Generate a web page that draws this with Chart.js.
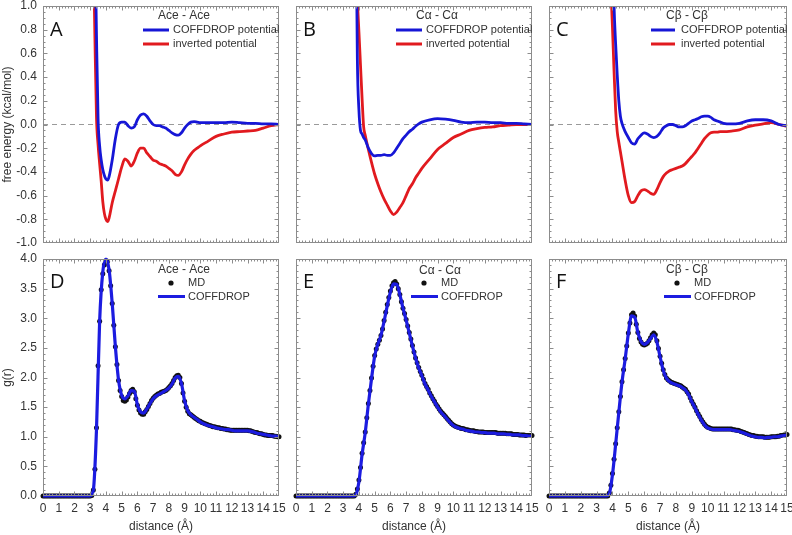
<!DOCTYPE html>
<html>
<head>
<meta charset="utf-8">
<title>COFFDROP potentials and g(r)</title>
<script src="https://cdn.jsdelivr.net/npm/chart.js@4.4.1/dist/chart.umd.min.js"></script>
<style>
  html, body { margin: 0; padding: 0; background: #fff; }
  #wrap { position: relative; width: 792px; height: 535px; overflow: hidden; }
  #wrap canvas { position: absolute; left: 0; top: 0; }
</style>
</head>
<body>
<div id="wrap">
  <canvas id="panelA" width="792" height="535"></canvas>
  <canvas id="panelB" width="792" height="535"></canvas>
  <canvas id="panelC" width="792" height="535"></canvas>
  <canvas id="panelD" width="792" height="535"></canvas>
  <canvas id="panelE" width="792" height="535"></canvas>
  <canvas id="panelF" width="792" height="535"></canvas>
</div>
<script>
// ---- tick labels ----
const energyTicks = [-1.0, -0.8, -0.6, -0.4, -0.2, 0.0, 0.2, 0.4, 0.6, 0.8, 1.0];
const gTicks = [0.0, 0.5, 1.0, 1.5, 2.0, 2.5, 3.0, 3.5, 4.0];
const distanceTicks = [0, 1, 2, 3, 4, 5, 6, 7, 8, 9, 10, 11, 12, 13, 14, 15];

// ---- free energy (top row), distance in Å ----
const zeroX = [0, 15];
const zeroY = [0, 0];

const xAce = [3.2, 3.3, 3.4, 3.5, 3.6, 3.7, 3.8, 3.9, 4.0, 4.1, 4.2,
  4.4, 4.6, 4.8, 5.0, 5.2, 5.4, 5.6, 5.8, 6.0, 6.2, 6.4, 6.6, 6.8, 7.0, 7.2, 7.4, 7.6, 7.8,
  8.0, 8.2, 8.4, 8.6, 8.8, 9.0, 9.2, 9.4, 9.6, 9.8, 10.0,
  10.5, 11.0, 11.5, 12.0, 12.5, 13.0, 13.5, 14.0, 14.5, 15.0];
const aceCoffdrop = [2.5, 1.6, 0.75, 0.05, -0.18, -0.3, -0.38, -0.43, -0.46, -0.47, -0.44,
  -0.3, -0.12, 0.0, 0.02, 0.02, -0.01, -0.03, -0.02, 0.04, 0.08, 0.09, 0.07, 0.03, 0.0, -0.01, -0.01, -0.02, -0.03,
  -0.05, -0.07, -0.085, -0.09, -0.07, -0.03, 0.0, 0.02, 0.025, 0.02, 0.015,
  0.015, 0.015, 0.015, 0.02, 0.015, 0.01, 0.01, 0.005, 0.005, 0.0];
const aceInverted = [1.5, 0.73, 0.06, -0.17, -0.33, -0.48, -0.65, -0.75, -0.8, -0.82, -0.79,
  -0.66, -0.56, -0.46, -0.36, -0.29, -0.31, -0.35, -0.31, -0.24, -0.2, -0.2, -0.24, -0.27, -0.3, -0.31, -0.33, -0.34, -0.35,
  -0.37, -0.39, -0.42, -0.43, -0.4, -0.34, -0.29, -0.25, -0.22, -0.2, -0.18,
  -0.14, -0.1, -0.08, -0.065, -0.06, -0.055, -0.05, -0.03, -0.01, 0.0];

const xCa = [3.8, 3.9, 4.0, 4.1, 4.2, 4.3, 4.4,
  4.6, 4.8, 5.0, 5.2, 5.4, 5.6, 5.8, 6.0, 6.2, 6.4, 6.6, 6.8, 7.0, 7.2, 7.4, 7.6, 7.8, 8.0,
  8.5, 9.0, 9.5, 10.0, 10.5, 11.0, 11.5, 12.0, 12.5, 13.0, 13.5, 14.0, 14.5, 15.0];
const caCoffdrop = [2.0, 0.55, 0.12, -0.05, -0.08, -0.11, -0.13,
  -0.2, -0.245, -0.265, -0.26, -0.26, -0.255, -0.26, -0.26, -0.24, -0.2, -0.16, -0.12, -0.09, -0.06, -0.04, -0.015, 0.005, 0.02,
  0.04, 0.05, 0.045, 0.035, 0.02, 0.015, 0.02, 0.02, 0.015, 0.015, 0.01, 0.01, 0.005, 0.0];
const caInverted = [1.35, 1.05, 0.78, 0.5, 0.22, -0.02, -0.09,
  -0.21, -0.32, -0.42, -0.5, -0.57, -0.63, -0.68, -0.73, -0.76, -0.74, -0.7, -0.66, -0.6, -0.54, -0.5, -0.45, -0.41, -0.37,
  -0.29, -0.21, -0.16, -0.11, -0.08, -0.05, -0.035, -0.025, -0.02, -0.01, -0.005, 0.0, 0.0, 0.0];

const xCb = [3.9, 4.0, 4.1, 4.2, 4.3, 4.4, 4.5, 4.6,
  4.8, 5.0, 5.2, 5.4, 5.6, 5.8, 6.0, 6.2, 6.4, 6.6, 6.8, 7.0, 7.2, 7.4, 7.6, 7.8,
  8.0, 8.2, 8.4, 8.6, 8.8, 9.0, 9.2, 9.4, 9.6, 9.8, 10.0, 10.2, 10.4, 10.6, 10.8, 11.0,
  11.5, 12.0, 12.5, 13.0, 13.5, 14.0, 14.5, 15.0];
const cbCoffdrop = [2.4, 1.6, 1.0, 0.68, 0.42, 0.2, 0.07, 0.01,
  -0.06, -0.11, -0.155, -0.165, -0.12, -0.09, -0.07, -0.08, -0.1, -0.11, -0.1, -0.07, -0.03, -0.01, 0.0, 0.0,
  -0.01, -0.02, -0.02, -0.01, 0.01, 0.03, 0.04, 0.05, 0.065, 0.07, 0.07, 0.06, 0.04, 0.03, 0.02, 0.01,
  0.005, 0.01, 0.03, 0.04, 0.04, 0.03, 0.0, -0.01];
const cbInverted = [1.15, 0.82, 0.45, 0.12, -0.06, -0.15, -0.23, -0.31,
  -0.47, -0.6, -0.66, -0.65, -0.6, -0.56, -0.55, -0.56, -0.58, -0.59, -0.55, -0.49, -0.44, -0.41, -0.39, -0.38,
  -0.37, -0.36, -0.35, -0.33, -0.3, -0.27, -0.24, -0.2, -0.16, -0.12, -0.09, -0.07, -0.065, -0.065, -0.06, -0.06,
  -0.055, -0.045, -0.02, -0.005, 0.005, 0.015, 0.0, -0.015];

// ---- g(r) (bottom row) ----
// COFFDROP curves, every 0.2 Å
const rGrid = [0, 0.2, 0.4, 0.6, 0.8, 1, 1.2, 1.4, 1.6, 1.8, 2, 2.2, 2.4, 2.6, 2.8, 3,
  3.2, 3.4, 3.6, 3.8, 4, 4.2, 4.4, 4.6, 4.8, 5, 5.2, 5.4, 5.6, 5.8, 6, 6.2, 6.4, 6.6, 6.8,
  7, 7.2, 7.4, 7.6, 7.8, 8, 8.2, 8.4, 8.6, 8.8, 9, 9.2, 9.4, 9.6, 9.8, 10, 10.2, 10.4, 10.6, 10.8,
  11, 11.2, 11.4, 11.6, 11.8, 12, 12.2, 12.4, 12.6, 12.8, 13, 13.2, 13.4, 13.6, 13.8,
  14, 14.2, 14.4, 14.6, 14.8, 15];

const aceCG = [0, 0, 0, 0, 0, 0, 0, 0, 0, 0, 0, 0, 0, 0, 0, 0,
  0.1, 1.12, 2.95, 3.78, 4.0, 3.82, 3.25, 2.52, 1.96, 1.7, 1.64, 1.69, 1.78, 1.77, 1.54, 1.42, 1.4, 1.47, 1.56,
  1.64, 1.69, 1.72, 1.75, 1.78, 1.82, 1.89, 1.99, 2.02, 1.9, 1.61, 1.44, 1.37, 1.33, 1.29, 1.25, 1.22, 1.2, 1.18, 1.17,
  1.15, 1.14, 1.13, 1.12, 1.12, 1.11, 1.1, 1.1, 1.1, 1.1, 1.1, 1.09, 1.08, 1.06, 1.05,
  1.04, 1.03, 1.02, 1.01, 1.01, 1.0];
const caCG = [0, 0, 0, 0, 0, 0, 0, 0, 0, 0, 0, 0, 0, 0, 0, 0, 0, 0, 0,
  0.02, 0.24, 0.7, 1.07, 1.55, 1.98, 2.36, 2.56, 2.71, 2.95, 3.21, 3.44, 3.58, 3.57, 3.4, 3.17,
  2.97, 2.75, 2.53, 2.33, 2.16, 2.03, 1.89, 1.79, 1.68, 1.59, 1.5, 1.42, 1.36, 1.3, 1.24, 1.19, 1.16, 1.14, 1.13, 1.11,
  1.1, 1.09, 1.08, 1.08, 1.07, 1.07, 1.06, 1.06, 1.06, 1.05, 1.05, 1.05, 1.04, 1.04, 1.03,
  1.03, 1.03, 1.02, 1.02, 1.01, 1.01];
const cbCG = [0, 0, 0, 0, 0, 0, 0, 0, 0, 0, 0, 0, 0, 0, 0, 0, 0, 0, 0,
  0.04, 0.36, 0.87, 1.41, 1.92, 2.31, 2.74, 3.04, 3.02, 2.76, 2.61, 2.56, 2.59, 2.66, 2.72, 2.6,
  2.35, 2.12, 1.99, 1.93, 1.9, 1.88, 1.86, 1.83, 1.79, 1.71, 1.59, 1.49, 1.38, 1.28, 1.2, 1.15, 1.13, 1.12, 1.12, 1.12,
  1.12, 1.12, 1.12, 1.11, 1.1, 1.09, 1.07, 1.05, 1.03, 1.01, 1.0, 0.99, 0.99, 0.98, 0.99,
  0.99, 1.0, 1.0, 1.01, 1.02, 1.03];

// MD points, every 0.1 Å (one row per whole Å)
const rFine = [
  0, 0.1, 0.2, 0.3, 0.4, 0.5, 0.6, 0.7, 0.8, 0.9,
  1, 1.1, 1.2, 1.3, 1.4, 1.5, 1.6, 1.7, 1.8, 1.9,
  2, 2.1, 2.2, 2.3, 2.4, 2.5, 2.6, 2.7, 2.8, 2.9,
  3, 3.1, 3.2, 3.3, 3.4, 3.5, 3.6, 3.7, 3.8, 3.9,
  4, 4.1, 4.2, 4.3, 4.4, 4.5, 4.6, 4.7, 4.8, 4.9,
  5, 5.1, 5.2, 5.3, 5.4, 5.5, 5.6, 5.7, 5.8, 5.9,
  6, 6.1, 6.2, 6.3, 6.4, 6.5, 6.6, 6.7, 6.8, 6.9,
  7, 7.1, 7.2, 7.3, 7.4, 7.5, 7.6, 7.7, 7.8, 7.9,
  8, 8.1, 8.2, 8.3, 8.4, 8.5, 8.6, 8.7, 8.8, 8.9,
  9, 9.1, 9.2, 9.3, 9.4, 9.5, 9.6, 9.7, 9.8, 9.9,
  10, 10.1, 10.2, 10.3, 10.4, 10.5, 10.6, 10.7, 10.8, 10.9,
  11, 11.1, 11.2, 11.3, 11.4, 11.5, 11.6, 11.7, 11.8, 11.9,
  12, 12.1, 12.2, 12.3, 12.4, 12.5, 12.6, 12.7, 12.8, 12.9,
  13, 13.1, 13.2, 13.3, 13.4, 13.5, 13.6, 13.7, 13.8, 13.9,
  14, 14.1, 14.2, 14.3, 14.4, 14.5, 14.6, 14.7, 14.8, 14.9,
  15];

const aceMD = [
  0, 0, 0, 0, 0, 0, 0, 0, 0, 0,
  0, 0, 0, 0, 0, 0, 0, 0, 0, 0,
  0, 0, 0, 0, 0, 0, 0, 0, 0, 0,
  0, 0.01, 0.1, 0.45, 1.15, 2.2, 2.95, 3.48, 3.75, 3.9,
  3.97, 3.96, 3.8, 3.55, 3.25, 2.88, 2.52, 2.22, 1.95, 1.78,
  1.68, 1.61, 1.6, 1.62, 1.67, 1.73, 1.78, 1.8, 1.76, 1.64,
  1.53, 1.45, 1.4, 1.38, 1.38, 1.42, 1.46, 1.51, 1.56, 1.61,
  1.65, 1.68, 1.7, 1.72, 1.73, 1.75, 1.76, 1.77, 1.78, 1.8,
  1.83, 1.86, 1.9, 1.95, 2.0, 2.03, 2.04, 2.0, 1.9, 1.74,
  1.6, 1.5, 1.43, 1.39, 1.37, 1.35, 1.33, 1.31, 1.29, 1.27,
  1.26, 1.24, 1.23, 1.22, 1.21, 1.2, 1.19, 1.18, 1.17, 1.17,
  1.16, 1.15, 1.15, 1.14, 1.14, 1.13, 1.13, 1.12, 1.12, 1.11,
  1.11, 1.11, 1.11, 1.11, 1.11, 1.11, 1.11, 1.11, 1.11, 1.11,
  1.11, 1.1, 1.1, 1.09, 1.08, 1.07, 1.07, 1.06, 1.05, 1.05,
  1.04, 1.03, 1.03, 1.02, 1.02, 1.02, 1.02, 1.01, 1.01, 1.0,
  1.0];
const caMD = [
  0, 0, 0, 0, 0, 0, 0, 0, 0, 0,
  0, 0, 0, 0, 0, 0, 0, 0, 0, 0,
  0, 0, 0, 0, 0, 0, 0, 0, 0, 0,
  0, 0, 0, 0, 0, 0, 0, 0, 0.03, 0.12,
  0.27, 0.48, 0.72, 0.9, 1.08, 1.32, 1.56, 1.78, 1.99, 2.19,
  2.37, 2.48, 2.56, 2.63, 2.71, 2.82, 2.96, 3.1, 3.23, 3.35,
  3.46, 3.55, 3.6, 3.62, 3.58, 3.5, 3.4, 3.28, 3.17, 3.08,
  2.98, 2.87, 2.76, 2.65, 2.54, 2.43, 2.33, 2.25, 2.17, 2.1,
  2.04, 1.97, 1.9, 1.85, 1.8, 1.74, 1.69, 1.64, 1.6, 1.55,
  1.51, 1.47, 1.43, 1.4, 1.37, 1.34, 1.31, 1.28, 1.25, 1.22,
  1.2, 1.18, 1.17, 1.16, 1.15, 1.14, 1.14, 1.13, 1.12, 1.12,
  1.11, 1.1, 1.1, 1.1, 1.09, 1.09, 1.08, 1.08, 1.08, 1.08,
  1.07, 1.07, 1.07, 1.07, 1.07, 1.07, 1.07, 1.07, 1.06, 1.06,
  1.06, 1.06, 1.06, 1.06, 1.05, 1.05, 1.05, 1.05, 1.04, 1.04,
  1.04, 1.04, 1.03, 1.03, 1.03, 1.03, 1.02, 1.02, 1.02, 1.02,
  1.02];
const cbMD = [
  0, 0, 0, 0, 0, 0, 0, 0, 0, 0,
  0, 0, 0, 0, 0, 0, 0, 0, 0, 0,
  0, 0, 0, 0, 0, 0, 0, 0, 0, 0,
  0, 0, 0, 0, 0, 0, 0, 0, 0.05, 0.18,
  0.38, 0.62, 0.88, 1.15, 1.42, 1.68, 1.93, 2.13, 2.32, 2.53,
  2.75, 2.92, 3.06, 3.09, 3.04, 2.9, 2.76, 2.66, 2.6, 2.56,
  2.55, 2.56, 2.58, 2.62, 2.67, 2.72, 2.75, 2.72, 2.62, 2.49,
  2.36, 2.24, 2.13, 2.05, 1.99, 1.96, 1.94, 1.92, 1.91, 1.9,
  1.89, 1.88, 1.87, 1.86, 1.84, 1.82, 1.8, 1.76, 1.72, 1.66,
  1.6, 1.55, 1.5, 1.44, 1.39, 1.34, 1.29, 1.25, 1.21, 1.18,
  1.16, 1.15, 1.14, 1.13, 1.13, 1.13, 1.13, 1.13, 1.13, 1.13,
  1.13, 1.13, 1.13, 1.13, 1.13, 1.13, 1.12, 1.12, 1.11, 1.11,
  1.1, 1.09, 1.08, 1.07, 1.06, 1.05, 1.04, 1.03, 1.02, 1.02,
  1.01, 1.01, 1.0, 1.0, 1.0, 1.0, 0.99, 0.99, 0.99, 0.99,
  1.0, 1.0, 1.0, 1.0, 1.01, 1.01, 1.02, 1.02, 1.03, 1.03,
  1.04];

// ---- styling ----
const BLUE = '#1616d6';
const RED = '#e11a1f';
const TEXT = '#333333';
const FRAME = '#8c8c8c';

Chart.defaults.font.family = "'Liberation Sans', Arial, sans-serif";
Chart.defaults.font.size = 12;
Chart.defaults.color = TEXT;

const pts = (xs, ys) => xs.map((x, i) => ({ x: x, y: ys[i] }));

// box frame with inward major/minor ticks on all four sides
const frameTicks = {
  id: 'frameTicks',
  afterDatasetsDraw(chart, args, o) {
    const { ctx, chartArea: a, scales: { x, y } } = chart;
    const L = Math.round(a.left) + 0.5, R = Math.round(a.right) - 0.5;
    const T = Math.round(a.top) + 0.5, B = Math.round(a.bottom) - 0.5;
    const isMajor = (list, v) => list.some(m => Math.abs(m - v) < 1e-6);
    ctx.save();
    ctx.strokeStyle = FRAME;
    ctx.lineWidth = 1;
    ctx.strokeRect(L, T, R - L, B - T);
    ctx.beginPath();
    const nx = Math.round((x.max - x.min) / o.xMinor);
    for (let i = 1; i < nx; i++) {
      const v = x.min + i * o.xMinor;
      const len = isMajor(o.xMajor, v) ? 4 : 2;
      const px = Math.round(x.getPixelForValue(v)) + 0.5;
      ctx.moveTo(px, B); ctx.lineTo(px, B - len);
      ctx.moveTo(px, T); ctx.lineTo(px, T + len);
    }
    const ny = Math.round((y.max - y.min) / o.yMinor);
    for (let i = 1; i < ny; i++) {
      const v = y.min + i * o.yMinor;
      const len = isMajor(o.yMajor, v) ? 4 : 2;
      const py = Math.round(y.getPixelForValue(v)) + 0.5;
      ctx.moveTo(L, py); ctx.lineTo(L + len, py);
      ctx.moveTo(R, py); ctx.lineTo(R - len, py);
    }
    ctx.stroke();
    ctx.restore();
  }
};

// panel letter + in-plot legend
const panelDecor = {
  id: 'panelDecor',
  afterDraw(chart, args, o) {
    const { ctx, chartArea: a } = chart;
    ctx.save();
    ctx.fillStyle = '#111';
    ctx.font = "20px 'Open Sans', sans-serif";
    ctx.textAlign = 'left';
    ctx.textBaseline = 'alphabetic';
    ctx.fillText(o.letter, a.left + 7, a.top + o.letterDy);

    ctx.fillStyle = TEXT;
    ctx.font = "12px 'Liberation Sans', Arial, sans-serif";
    ctx.textAlign = 'center';
    ctx.textBaseline = 'middle';
    ctx.fillText(o.title, a.left + o.titleDx, a.top + o.titleDy);

    ctx.textAlign = 'left';
    ctx.font = "11px 'Liberation Sans', Arial, sans-serif";
    let row = 0;
    chart.data.datasets.forEach(ds => {
      if (!ds.label) return;
      const yy = a.top + o.rowDy[row++];
      if (ds.showLine === false) {
        ctx.fillStyle = ds.pointBackgroundColor;
        ctx.beginPath();
        ctx.arc(a.left + o.dotDx, yy, 2.6, 0, Math.PI * 2);
        ctx.fill();
      } else {
        ctx.strokeStyle = ds.borderColor;
        ctx.lineWidth = 3;
        ctx.beginPath();
        ctx.moveTo(a.left + o.lineDx[0], yy);
        ctx.lineTo(a.left + o.lineDx[1], yy);
        ctx.stroke();
      }
      ctx.fillStyle = TEXT;
      ctx.fillText(ds.label, a.left + o.textDx, yy);
    });
    ctx.restore();
  }
};

function xScale(showLabels) {
  const s = {
    type: 'linear', min: 0, max: 15, display: showLabels,
    grid: { display: false, drawTicks: false },
    border: { display: false },
    afterBuildTicks: sc => { sc.ticks = distanceTicks.map(v => ({ value: v })); },
    ticks: { padding: 5, autoSkip: false, maxRotation: 0, font: { size: 12 } },
    title: { display: true, text: 'distance (Å)', padding: { top: 0, bottom: 0 }, font: { size: 12 } }
  };
  if (showLabels) {
    s.afterFit = sc => { sc.height = 38; sc.paddingLeft = 0; sc.paddingRight = 0; };
  }
  return s;
}

function yScale(tickList, min, max, titleText, showLabels) {
  const s = {
    type: 'linear', min: min, max: max, display: showLabels,
    grid: { display: false, drawTicks: false },
    border: { display: false },
    afterBuildTicks: sc => { sc.ticks = tickList.map(v => ({ value: v })); },
    ticks: {
      padding: 6, autoSkip: false, font: { size: 12, lineHeight: 1 },
      callback: v => (Math.abs(v) < 1e-9 ? 0 : v).toFixed(1)
    },
    title: { display: true, text: titleText, padding: { top: 0, bottom: 0 }, font: { size: 12 } }
  };
  if (showLabels) {
    s.afterFit = sc => { sc.width = 43; sc.paddingTop = 0; sc.paddingBottom = 0; };
  }
  return s;
}

// curves leave through the top of the free energy panels: clip only there
const topClip = { left: false, top: 0, right: false, bottom: false };

function energyPanel(id, letter, title, xs, coff, inv, pad, legend) {
  return new Chart(document.getElementById(id), {
    type: 'line',
    data: {
      datasets: [
        { label: 'COFFDROP potential', data: pts(xs, coff), borderColor: BLUE, borderWidth: 2.8,
          pointRadius: 0, cubicInterpolationMode: 'monotone', clip: topClip, order: 0 },
        { label: 'inverted potential', data: pts(xs, inv), borderColor: RED, borderWidth: 2.8,
          pointRadius: 0, cubicInterpolationMode: 'monotone', clip: topClip, order: 1 },
        { label: '', data: pts(zeroX, zeroY), borderColor: '#9a9a9a', borderWidth: 1,
          borderDash: [5, 4], pointRadius: 0, clip: 0, order: 2 }
      ]
    },
    options: {
      responsive: false, animation: false, devicePixelRatio: 1,
      layout: { padding: pad },
      scales: {
        x: xScale(false),
        y: yScale(energyTicks, -1, 1, 'free energy (kcal/mol)', pad.left === 0)
      },
      plugins: {
        legend: { display: false }, tooltip: { enabled: false },
        frameTicks: { xMajor: distanceTicks, xMinor: 0.2, yMajor: energyTicks, yMinor: 0.05 },
        panelDecor: Object.assign({ letter: letter, title: title, letterDy: 30 }, legend)
      }
    },
    plugins: [frameTicks, panelDecor]
  });
}

function rdfPanel(id, letter, title, md, cg, pad, legend) {
  return new Chart(document.getElementById(id), {
    type: 'line',
    data: {
      datasets: [
        { label: 'MD', data: pts(rFine, md), showLine: false, pointRadius: 2.5, pointBorderWidth: 0,
          pointBackgroundColor: '#111', pointBorderColor: '#111', clip: false, order: 1 },
        { label: 'COFFDROP', data: pts(rGrid, cg), borderColor: '#1c1ce0', borderWidth: 3.2,
          pointRadius: 0, cubicInterpolationMode: 'monotone', clip: false, order: 0 }
      ]
    },
    options: {
      responsive: false, animation: false, devicePixelRatio: 1,
      layout: { padding: pad },
      scales: {
        x: xScale(true),
        y: yScale(gTicks, 0, 4, 'g(r)', pad.left === 0)
      },
      plugins: {
        legend: { display: false }, tooltip: { enabled: false },
        frameTicks: { xMajor: distanceTicks, xMinor: 0.2, yMajor: gTicks, yMinor: 0.1 },
        panelDecor: Object.assign({ letter: letter, title: title, letterDy: 29 }, legend)
      }
    },
    plugins: [frameTicks, panelDecor]
  });
}

const topLegend = { titleDx: 141, titleDy: 10, lineDx: [100, 126], textDx: 130, rowDy: [24, 38] };
const botLegend = { titleDx: 141, titleDy: 11, dotDx: 128, lineDx: [115, 142], textDx: 145, rowDy: [24, 37.5] };

energyPanel('panelA', 'A', 'Ace - Ace', xAce, aceCoffdrop, aceInverted,
  { left: 0, top: 6, right: 513, bottom: 292 }, topLegend);
energyPanel('panelB', 'B', 'Cα - Cα', xCa, caCoffdrop, caInverted,
  { left: 296, top: 6, right: 260, bottom: 292 }, topLegend);
energyPanel('panelC', 'C', 'Cβ - Cβ', xCb, cbCoffdrop, cbInverted,
  { left: 549, top: 6, right: 5, bottom: 292 },
  Object.assign({}, topLegend, { titleDx: 138, lineDx: [102, 126], textDx: 132 }));

rdfPanel('panelD', 'D', 'Ace - Ace', aceMD, aceCG,
  { left: 0, top: 259, right: 513, bottom: 1 }, botLegend);
rdfPanel('panelE', 'E', 'Cα - Cα', caMD, caCG,
  { left: 296, top: 259, right: 260, bottom: 1 },
  Object.assign({}, botLegend, { titleDx: 144, titleDy: 12 }));
rdfPanel('panelF', 'F', 'Cβ - Cβ', cbMD, cbCG,
  { left: 549, top: 259, right: 5, bottom: 1 },
  Object.assign({}, botLegend, { titleDx: 138 }));
</script>
</body>
</html>
